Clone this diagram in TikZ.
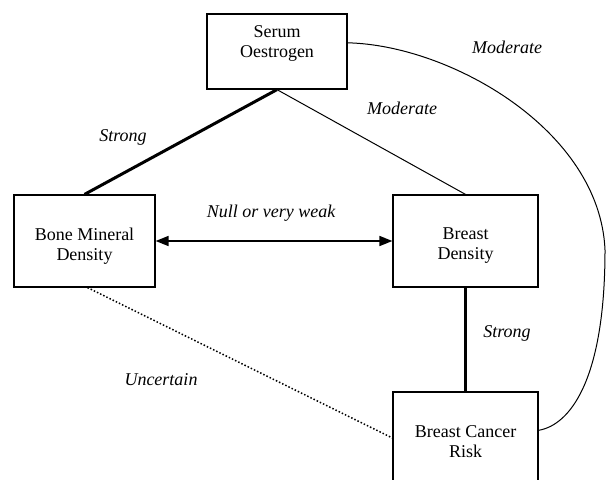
\documentclass[tikz,border=0pt]{standalone}
\usepackage{fontspec}
\setmainfont{Liberation Serif}
\usetikzlibrary{arrows.meta}
\tikzset{
  box/.style={draw, line width=1.2pt, minimum width=#1, minimum height=92pt, inner sep=0pt},
  box/.default=145pt,
  txt/.style={align=center, inner sep=0pt, font=\fontsize{18}{20}\selectfont},
  lbl/.style={inner sep=0pt, font=\fontsize{18}{20}\selectfont\itshape},
  strong/.style={line width=3pt},
  weak/.style={line width=1pt},
  dots/.style={line width=1.5pt, dotted},
  arr/.style={line width=1.5pt, {Triangle[length=13pt,width=10pt]}-{Triangle[length=13pt,width=10pt]}}
}
\begin{document}
\begin{tikzpicture}[x=1pt, y=-1pt]
\useasboundingbox (0,0) rectangle (607,479);
\clip (0,0) rectangle (607,479);
\node[draw, line width=1.2pt, minimum width=140pt, minimum height=75pt, inner sep=0pt] (se) at (277,51.5) {};
\node[txt] (set) at (277,43) {Serum\\Oestrogen};
\node[box=141pt] (bmd) at (84.5,241) {};
\node[txt] (bmdt) at (84.5,246) {Bone Mineral\\Density};
\node[box] (bd) at (465.5,241) {};
\node[txt] (bdt) at (465.5,246) {Breast\\Density};
\node[box] (bcr) at (465.5,438) {};
\node[txt] (bcrt) at (465.5,442) {Breast Cancer\\Risk};

\draw[strong] (se.south) -- (bmd.north);
\draw[weak] (se.south) -- (bd.north);
\draw[arr] (bmd.east) -- (bd.west);
\draw[strong] (bd.south) -- (bcr.north);
\draw[dots] ([xshift=3pt]bmd.south) -- (bcr.west);
\coordinate (far) at (605,250);
\draw[weak] (se.7) .. controls (450,45) and (600,130) .. (far)
  .. controls (605,380) and (570,425) .. (bcr.6);

\node[lbl] (l1) at (507,47) {Moderate};
\node[lbl] (l2) at (402,108) {Moderate};
\node[lbl] (l3) at (123,137) {Strong};
\node[lbl] (l4) at (271,213) {Null or very weak};
\node[lbl] (l5) at (507,333) {Strong};
\node[lbl] (l6) at (161,380) {Uncertain};
\end{tikzpicture}
\end{document}
